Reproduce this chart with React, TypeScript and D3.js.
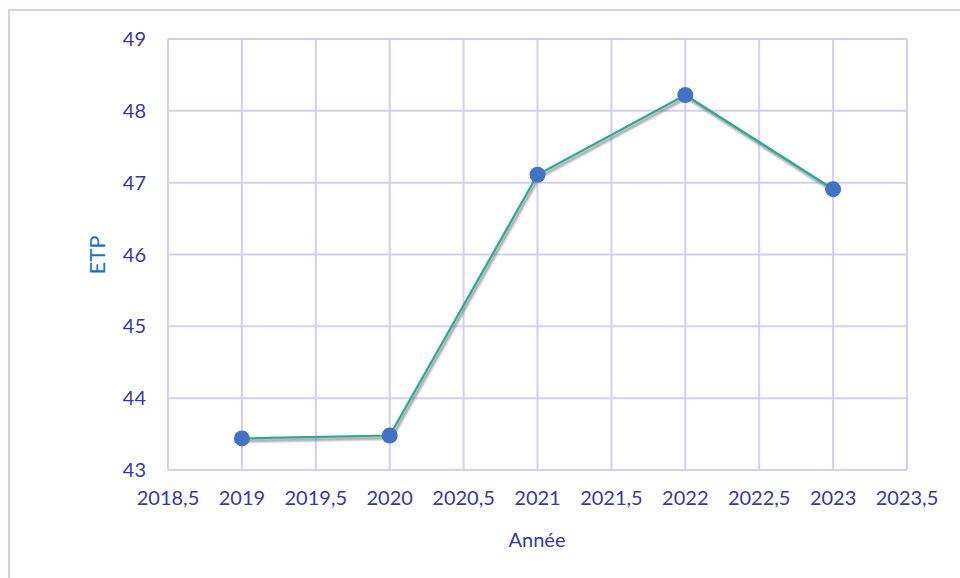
import React from "react";
import * as d3 from "d3";

const years = [2019, 2020, 2021, 2022, 2023];
const etp = [43.44, 43.48, 47.11, 48.22, 46.91];
const xTicks = [2018.5, 2019, 2019.5, 2020, 2020.5, 2021, 2021.5, 2022, 2022.5, 2023, 2023.5];
const yTicks = [43, 44, 45, 46, 47, 48, 49];

const W = 960, H = 578;
const left = 168, right = 907, top = 39, bottom = 470;
const FONT = "Lato, 'Open Sans', sans-serif";
const TXT = "#3B37A0";
const GRID = "#D4CFF0";

export default function App() {
  const x = d3.scaleLinear().domain([2018.5, 2023.5]).range([left, right]);
  const y = d3.scaleLinear().domain([43, 49]).range([bottom, top]);
  const pts: [number, number][] = years.map((yr, i) => [x(yr), y(etp[i])]);
  const line = d3.line<[number, number]>()(pts) || "";
  const fmt = (v: number) => String(v).replace(".", ",");
  return (
    <svg width={W} height={H} style={{ position: "absolute", left: 0, top: 0 }}>
      <defs>
        <filter id="blur" x="-10%" y="-10%" width="120%" height="120%">
          <feGaussianBlur stdDeviation="1.2" />
        </filter>
      </defs>
      <rect x={0} y={0} width={W} height={H} fill="#fff" />
      <path d={`M9,${H} V10 H${W}`} fill="none" stroke={GRID} strokeWidth={2} />
      {xTicks.map((t) => (
        <line key={"gx" + t} x1={x(t)} x2={x(t)} y1={top} y2={bottom} stroke={GRID} strokeWidth={2} />
      ))}
      {yTicks.map((t) => (
        <line key={"gy" + t} x1={left} x2={right} y1={y(t)} y2={y(t)} stroke={GRID} strokeWidth={2} />
      ))}
      {yTicks.map((t) => (
        <text key={"ty" + t} x={left - 22} y={y(t)} dy="0.35em" textAnchor="end" fontFamily={FONT} fontSize={20} fill={TXT}>
          {t}
        </text>
      ))}
      {xTicks.map((t) => (
        <text key={"tx" + t} x={x(t)} y={bottom + 35} textAnchor="middle" fontFamily={FONT} fontSize={20} fill={TXT}>
          {fmt(t)}
        </text>
      ))}
      <text x={537} y={547} textAnchor="middle" fontFamily={FONT} fontSize={20} fill={TXT}>Année</text>
      <text transform={`translate(105,255) rotate(-90)`} textAnchor="middle" fontFamily={FONT} fontSize={22} fill="#1F6FC0">ETP</text>
      <path d={line} transform="translate(1.5,2.5)" fill="none" stroke="#777" strokeWidth={3} opacity={0.7} filter="url(#blur)" />
      <path d={line} fill="none" stroke="#2AA898" strokeWidth={2.2} />
      {pts.map((p, i) => (
        <circle key={"c" + i} cx={p[0]} cy={p[1]} r={8} fill="#4472C4" />
      ))}
    </svg>
  );
}
